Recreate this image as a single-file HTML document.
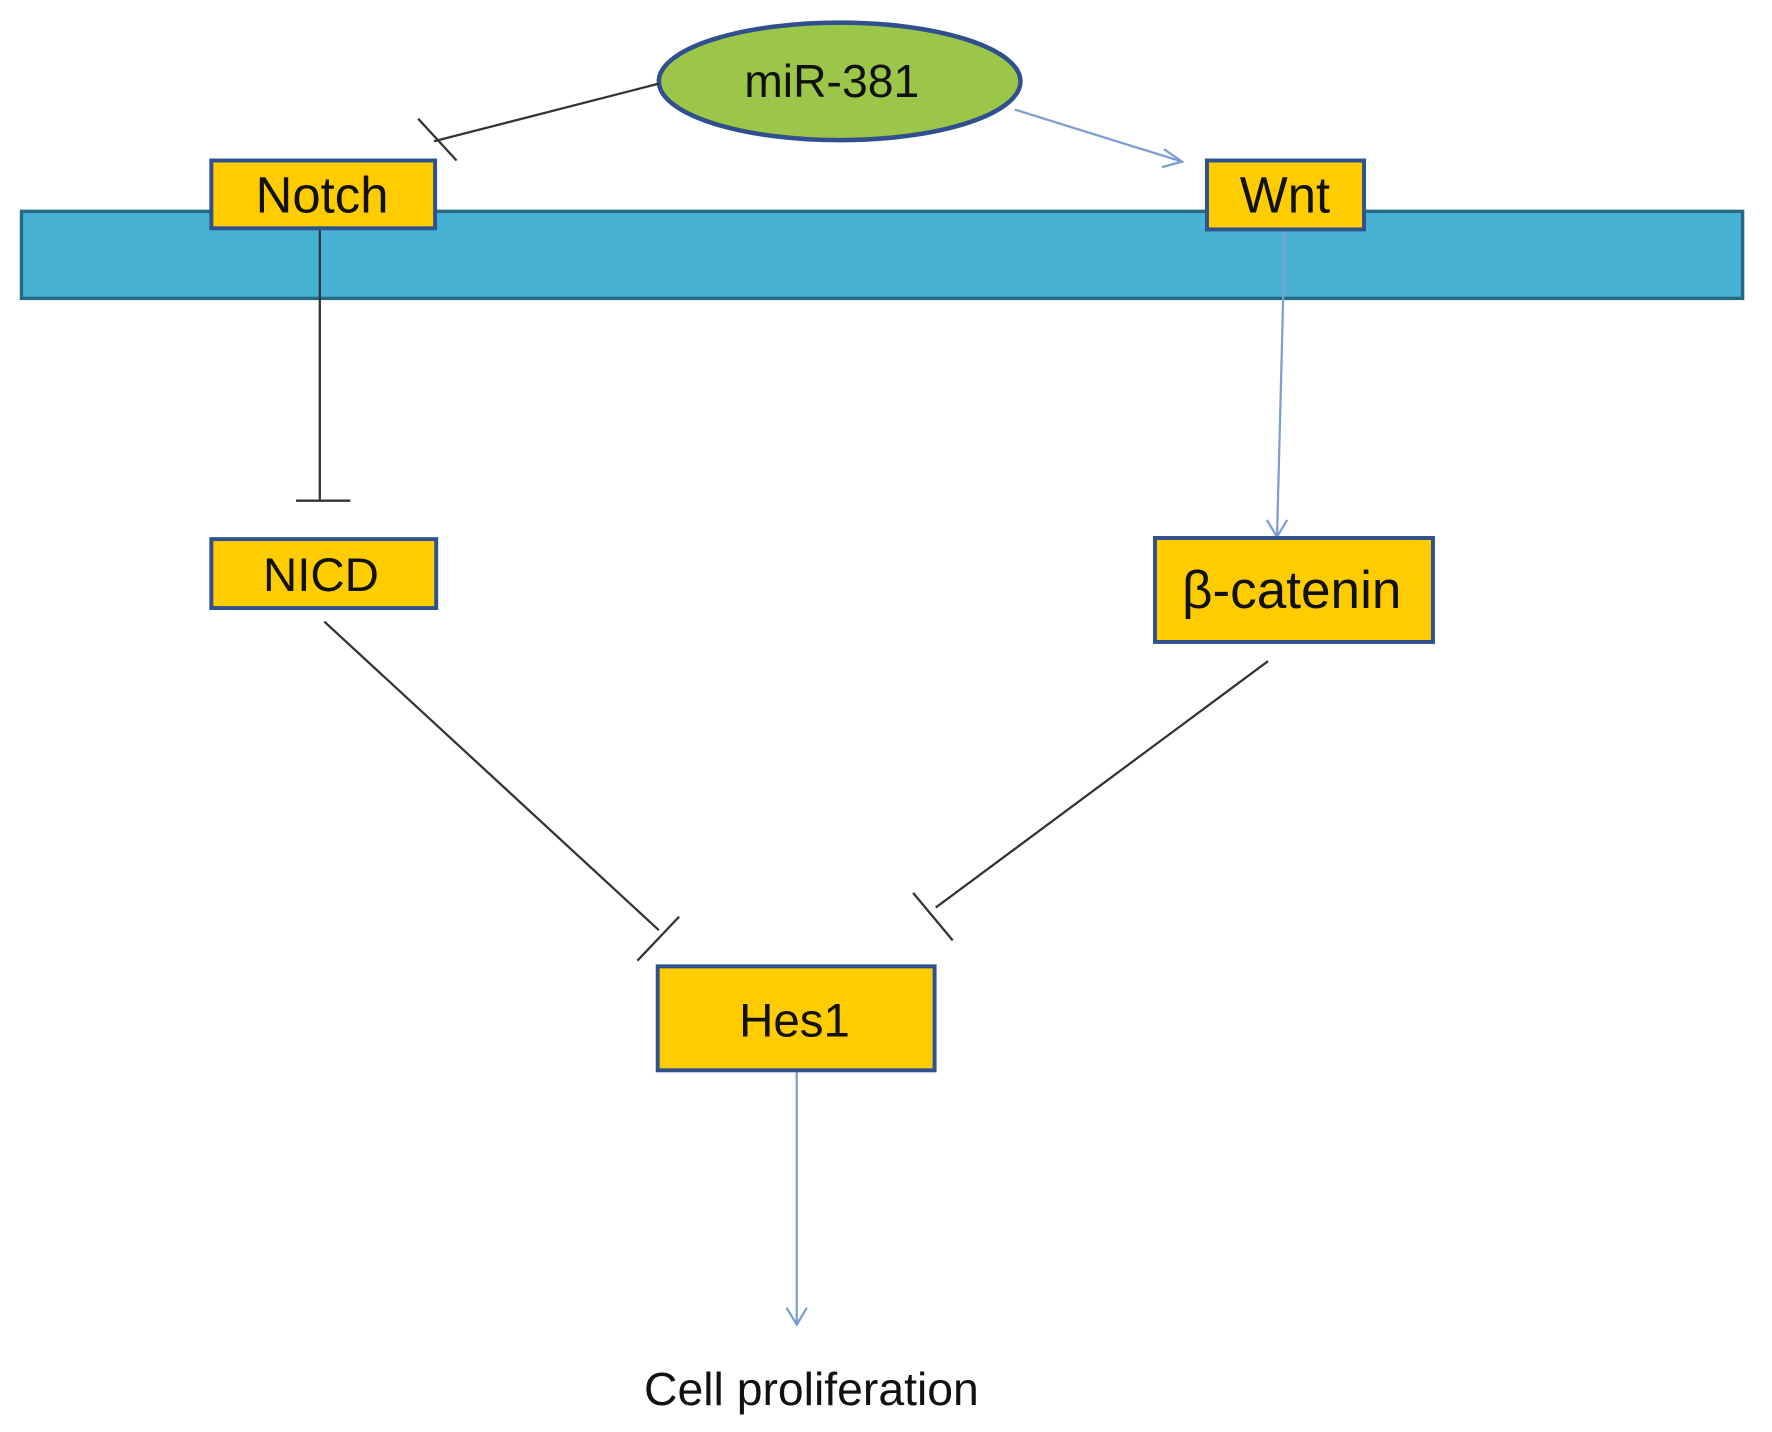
<!DOCTYPE html>
<html><head><style>html,body{margin:0;padding:0;background:#fff}svg{display:block}</style></head>
<body>
<svg width="1772" height="1432" viewBox="0 0 1568 1267" preserveAspectRatio="none" xmlns="http://www.w3.org/2000/svg">
<rect x="0" y="0" width="1568" height="1267" fill="#fff"/>
<rect x="19" y="187" width="1523" height="77" fill="#48b2d4" stroke="#256a85" stroke-width="3"/>
<ellipse cx="743" cy="72" rx="160" ry="52" fill="#9bc649" stroke="#2f4f8f" stroke-width="4"/>
<text x="736" y="86" font-family="Liberation Sans, sans-serif" font-size="41" text-anchor="middle" fill="#111">miR-381</text>
<g stroke="#333" stroke-width="2" fill="none">
<line x1="583" y1="74" x2="384" y2="125"/>
<line x1="370" y1="105" x2="404" y2="142"/>
<line x1="283" y1="202" x2="283" y2="443"/>
<line x1="262" y1="443" x2="310" y2="443"/>
<line x1="287" y1="550" x2="583" y2="823"/>
<line x1="564" y1="850" x2="601" y2="811"/>
<line x1="1122" y1="585" x2="828" y2="803"/>
<line x1="808" y1="790" x2="843" y2="832"/>
</g>
<g stroke="#7d9ed2" stroke-width="2" fill="none">
<line x1="898" y1="97" x2="1046" y2="143"/>
<polyline points="1030,132 1046,143 1028,148"/>
<line x1="1137" y1="204" x2="1130" y2="475"/>
<polyline points="1121,460 1130,475 1139,460"/>
<line x1="705" y1="948" x2="705" y2="1172"/>
<polyline points="696,1157 705,1172 714,1157"/>
</g>
<g fill="#ffcc00" stroke="#2f528f" stroke-width="3.5">
<rect x="187" y="142" width="198" height="60"/>
<rect x="1068" y="142" width="139" height="61"/>
<rect x="187" y="477" width="199" height="61"/>
<rect x="1022" y="476" width="246" height="92"/>
<rect x="582" y="855" width="245" height="92"/>
</g>
<g font-family="Liberation Sans, sans-serif" fill="#111" text-anchor="middle">
<text x="285" y="188" font-size="45">Notch</text>
<text x="1137" y="188" font-size="45">Wnt</text>
<text x="284" y="523" font-size="42">NICD</text>
<text x="1143" y="538" font-size="47">β-catenin</text>
<text x="703" y="917" font-size="42">Hes1</text>
<text x="718" y="1243" font-size="41">Cell proliferation</text>
</g>
</svg>
</body></html>
